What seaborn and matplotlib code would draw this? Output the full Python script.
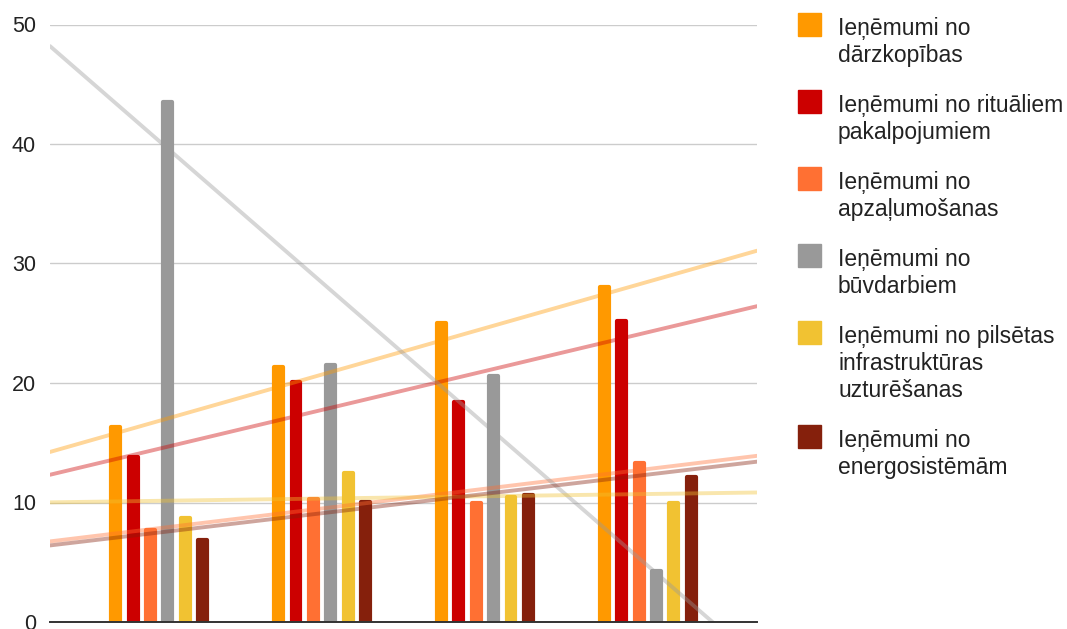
import numpy as np
import pandas as pd
import matplotlib
matplotlib.use("Agg")
import matplotlib.pyplot as plt
from matplotlib.patches import Rectangle
import seaborn as sns

# === DATI ===
periods = ["1", "2", "3", "4"]
series = [
    "Ieņēmumi no\ndārzkopības",
    "Ieņēmumi no rituāliem\npakalpojumiem",
    "Ieņēmumi no\napzaļumošanas",
    "Ieņēmumi no\nbūvdarbiem",
    "Ieņēmumi no pilsētas\ninfrastruktūras\nuzturēšanas",
    "Ieņēmumi no\nenergosistēmām",
]
darzkopiba = [16.3, 21.3, 25.0, 28.0]
rituali = [13.8, 20.1, 18.4, 25.2]
apzalumosana = [7.7, 10.3, 10.0, 13.3]
buvdarbi = [43.5, 21.5, 20.6, 4.3]
infrastruktura = [8.7, 12.5, 10.5, 10.0]
energosistemas = [6.9, 10.05, 10.6, 12.1]
colors = ["#ff9900", "#cc0000", "#ff7033", "#999999", "#f1c232", "#85200c"]

values = [darzkopiba, rituali, apzalumosana, buvdarbi, infrastruktura, energosistemas]
df = pd.DataFrame(
    [(p, s, v) for s, vals in zip(series, values) for p, v in zip(periods, vals)],
    columns=["periods", "series", "value"],
)

sns.set_style("white")
plt.rcParams["font.family"] = ["Liberation Sans", "DejaVu Sans"]

W, H = 1067, 629
fig = plt.figure(figsize=(W / 100, H / 100), dpi=100)
ax = fig.add_axes([50 / W, 7 / H, 707 / W, 597.5 / H])

# stabiņi ar noapaļotiem stūriem (biezāka mala ar round join)
sns.barplot(data=df, x="periods", y="value", hue="series", hue_order=series,
            palette=colors, width=0.64, gap=0.49, ax=ax, legend=False,
            saturation=1, zorder=2)
for bar in ax.patches:
    bar.set_edgecolor(bar.get_facecolor())
    bar.set_linewidth(3.0)
    bar.set_joinstyle("round")

XLIM = (-0.67, 3.67)
ax.set_xlim(XLIM)
x_num = np.arange(len(periods))
# tendences līnijas
for vals, c in zip(values, colors):
    sns.regplot(x=x_num, y=np.array(vals), scatter=False, ci=None, truncate=False,
                color=c, ax=ax, line_kws=dict(alpha=0.4, lw=2.8, zorder=3))
ax.set_xlim(XLIM)
ax.set_ylim(0, 50)
ax.set_yticks([0, 10, 20, 30, 40, 50])
ax.set_xticks([])
ax.set_xlabel("")
ax.set_ylabel("")
ax.grid(axis="y", color="#cccccc", lw=1.0, zorder=0)
ax.set_axisbelow(True)
for s in ["top", "right", "left"]:
    ax.spines[s].set_visible(False)
ax.spines["bottom"].set_color("#333333")
ax.spines["bottom"].set_linewidth(1.4)
ax.spines["bottom"].set_zorder(4)
ax.tick_params(axis="y", length=0, pad=10, labelsize=15.5, labelcolor="#222222")

# leģenda
y = 13
for lab, c in zip(series, colors):
    n = lab.count("\n") + 1
    fig.patches.append(Rectangle((798 / W, 1 - (y + 23) / H), 23 / W, 23 / H,
                                 transform=fig.transFigure, color=c))
    fig.text(838 / W, 1 - (y + 4) / H, lab, va="top", ha="left",
             fontsize=16.5, color="#222222", linespacing=1.22)
    y += n * 27 + 23

fig.savefig("out.png", dpi=100)
